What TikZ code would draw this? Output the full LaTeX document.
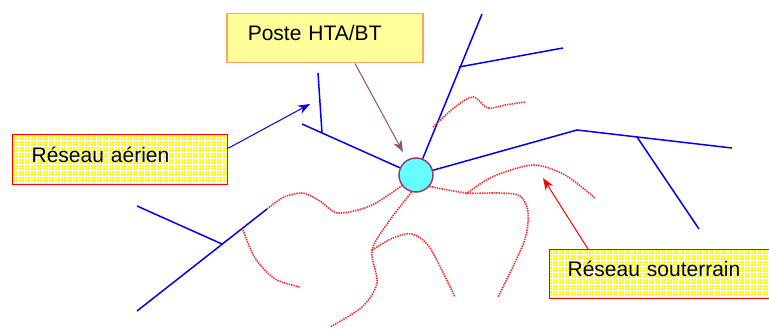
\documentclass[tikz,border=0pt]{standalone}
\usepackage{fontspec}
\setmainfont{Liberation Sans}
\usetikzlibrary{arrows.meta,patterns,calc}
\definecolor{bleuligne}{RGB}{0,0,255}
\definecolor{rougeligne}{RGB}{255,40,40}
\definecolor{cyanposte}{RGB}{102,255,255}
\definecolor{bordposte}{RGB}{150,60,110}
\definecolor{jaunepale}{RGB}{255,255,153}
\definecolor{orangebord}{RGB}{255,160,100}
\definecolor{jaune}{RGB}{255,255,0}
\definecolor{flecheposte}{RGB}{150,80,110}

\begin{document}
\begin{tikzpicture}[
    x=1pt,y=-1pt,
    aerien/.style={line width=1.5pt, bleuligne},
    souterrain/.style={line width=1.6pt, rougeligne, dash pattern=on 1.4pt off 1pt},
    poste/.style={draw=bordposte, line width=1.5pt, circle, fill=cyanposte, minimum size=34pt, inner sep=0pt},
    etiquette/.style={anchor=north west, inner ysep=0pt, minimum height=49pt, align=left, text depth=10pt, font=\fontsize{21}{25}\selectfont},
    grille/.style={etiquette, preaction={fill=jaune}, preaction={pattern=grid, pattern color=white}, draw=red, line width=1.2pt},
    fleche/.style={line width=1pt, -{Stealth[length=12pt,width=9pt]}}
    ]
    \useasboundingbox (0,0) rectangle (769,329);
    \clip (0,0) rectangle (769,329);
    \node[poste] (poste) at (416,175) {};
    \node[etiquette, draw=orangebord, line width=1.5pt, fill=jaunepale, inner xsep=21pt, text width=154pt] (hta) at (226,13) {Poste HTA/BT};
    \node[grille, inner xsep=19pt, text width=177pt, minimum height=50pt] (aerien) at (12,134) {Réseau aérien};
    \node[grille, inner xsep=18pt, text width=200pt] (sout) at (549,249) {Réseau souterrain};
    \draw[aerien] (poste) -- (302,124);
    \draw[aerien] (322,133) -- (318,73);
    \draw[aerien] (poste) -- (482,14);
    \draw[aerien] (459,67) -- (563,48);
    \draw[aerien] (poste) -- (577,130) -- (732,148);
    \draw[aerien] (637,137) -- (699,229);
    \draw[aerien] (137,311) -- (267,209);
    \draw[aerien] (137,206) -- (222,244);
    \draw[souterrain] plot[smooth] coordinates {(433,127) (455,107) (473,97) (488,108) (505,105) (525,102)};
    \draw[souterrain] plot[smooth] coordinates {(267,209) (284,197) (303,193) (320,201) (338,213) (370,206) (poste.-143)};
    \draw[souterrain] plot[smooth] coordinates {(243,230) (255,258) (275,279) (300,287)};
    \draw[souterrain] plot[smooth] coordinates {(poste.-105) (390,220) (372,250) (377,283) (362,307) (330,327)};
    \draw[souterrain] plot[smooth] coordinates {(372,250) (393,238) (412,234) (430,248) (455,297)};
    \draw[souterrain] plot[smooth] coordinates {(poste.-40) (467,193) (500,193) (520,196) (528,212) (524,242) (498,297)};
    \draw[souterrain] plot[smooth] coordinates {(466,194) (492,177) (533,165) (565,175) (595,198)};
    \draw[fleche, bleuligne] (aerien.6) -- (310,104);
    \draw[fleche, flecheposte] ($(hta.south west)+(129,0)$) -- (403,152);
    \draw[fleche, red] ($(sout.north west)+(39,0)$) -- (543,178);
  \end{tikzpicture}
\end{document}
